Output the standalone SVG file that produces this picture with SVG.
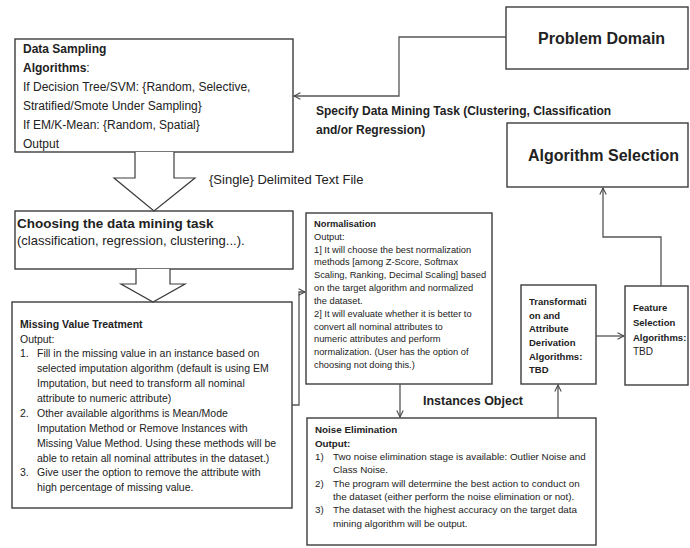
<svg xmlns="http://www.w3.org/2000/svg" width="690" height="548" viewBox="0 0 690 548">
<defs>
<marker id="ah" viewBox="0 0 10 10" refX="9" refY="5" markerWidth="8" markerHeight="8" orient="auto" markerUnits="userSpaceOnUse">
<path d="M1,1 L9,5 L1,9" fill="none" stroke="#444" stroke-width="1.3"/>
</marker>
<style>
.box{fill:#fff;stroke:#3c3c3c;stroke-width:1.4}
.bigarrow{fill:#fff;stroke:#3c3c3c;stroke-width:1.2}
.con{fill:none;stroke:#555;stroke-width:1.3}
text{font-family:"Liberation Sans",Arial,sans-serif;fill:#222}
.b{font-weight:bold}
.t12{font-size:12px}
.t13{font-size:13px}
.t10{font-size:10.5px}
.t9{font-size:9.3px}
.tn{font-size:9.8px}
.tb{font-size:9.5px;font-weight:bold}
.big{font-size:16px;font-weight:bold}
</style>
</defs>
<rect width="690" height="548" fill="#fff"/>

<g id="problem-domain">
<rect class="box" x="506" y="7" width="182" height="62"/>
<text class="big" x="538" y="44">Problem Domain</text>
</g>

<g id="algorithm-selection">
<rect class="box" x="507" y="123" width="181" height="64"/>
<text class="big" x="528" y="161">Algorithm Selection</text>
</g>

<g id="data-sampling">
<rect class="box" x="15" y="39" width="278" height="113"/>
<text class="t12" x="23" y="53"><tspan class="b">Data Sampling</tspan></text>
<text class="t12" x="23" y="72"><tspan class="b">Algorithms</tspan>:</text>
<text class="t12" x="23" y="91">If Decision Tree/SVM: {Random, Selective,</text>
<text class="t12" x="23" y="110">Stratified/Smote Under Sampling}</text>
<text class="t12" x="23" y="129">If EM/K-Mean: {Random, Spatial}</text>
<text class="t12" x="23" y="148">Output</text>
</g>

<g id="choosing-task">
<rect class="box" x="15" y="211" width="278" height="58"/>
<text class="b" style="font-size:13.5px" x="17" y="228">Choosing the data mining task</text>
<text class="t13" x="17" y="245">(classification, regression, clustering...).</text>
</g>

<g id="missing-value">
<rect class="box" x="12" y="302" width="280" height="206"/>
<text class="t10 b" x="20" y="328">Missing Value Treatment</text>
<text class="t10" x="20" y="343">Output:</text>
<text class="t10" x="20" y="357">1.</text>
<text class="t10" x="37" y="357">Fill in the missing value in an instance based on</text>
<text class="t10" x="37" y="372">selected imputation algorithm (default is using EM</text>
<text class="t10" x="37" y="387">Imputation, but need to transform all  nominal</text>
<text class="t10" x="37" y="402">attribute to numeric attribute)</text>
<text class="t10" x="20" y="417">2.</text>
<text class="t10" x="37" y="417">Other available algorithms is Mean/Mode</text>
<text class="t10" x="37" y="432">Imputation  Method or Remove Instances with</text>
<text class="t10" x="37" y="447">Missing Value Method. Using these methods will be</text>
<text class="t10" x="37" y="462">able to retain all nominal attributes in the dataset.)</text>
<text class="t10" x="20" y="476">3.</text>
<text class="t10" x="37" y="476">Give user the option to remove the attribute with</text>
<text class="t10" x="37" y="491">high percentage of missing value.</text>
</g>

<g id="normalisation">
<rect class="box" x="306" y="213" width="186" height="171"/>
<text class="t9 b" x="314" y="227">Normalisation</text>
<text class="t9" x="314" y="240">Output:</text>
<text class="t9" x="314" y="253">1] It will choose the best normalization</text>
<text class="t9" x="314" y="265">methods [among Z-Score, Softmax</text>
<text class="t9" x="314" y="278">Scaling, Ranking, Decimal Scaling] based</text>
<text class="t9" x="314" y="291">on the target algorithm and normalized</text>
<text class="t9" x="314" y="304">the dataset.</text>
<text class="t9" x="314" y="317">2] It will evaluate whether it is better to</text>
<text class="t9" x="314" y="330">convert all nominal attributes to</text>
<text class="t9" x="314" y="342">numeric attributes and perform</text>
<text class="t9" x="314" y="355">normalization. (User has the option of</text>
<text class="t9" x="314" y="368">choosing not doing this.)</text>
</g>

<g id="noise-elimination">
<rect class="box" x="307" y="418" width="289" height="127"/>
<text class="tn b" x="315" y="433">Noise Elimination</text>
<text class="tn b" x="315" y="447">Output:</text>
<text class="tn" x="315" y="460">1)</text>
<text class="tn" x="333" y="460">Two noise elimination stage is available: Outlier Noise and</text>
<text class="tn" x="333" y="473">Class Noise.</text>
<text class="tn" x="315" y="487">2)</text>
<text class="tn" x="333" y="487">The program will determine the best action to conduct on</text>
<text class="tn" x="333" y="500">the dataset (either perform the noise elimination or not).</text>
<text class="tn" x="315" y="513">3)</text>
<text class="tn" x="333" y="513">The dataset with the highest accuracy on the target data</text>
<text class="tn" x="333" y="527">mining algorithm will be output.</text>
</g>

<g id="transformation">
<rect class="box" x="521" y="285" width="75" height="99"/>
<text class="tb" x="529" y="305">Transformati</text>
<text class="tb" x="529" y="319">on and</text>
<text class="tb" x="529" y="332">Attribute</text>
<text class="tb" x="529" y="346">Derivation</text>
<text class="tb" x="529" y="360">Algorithms:</text>
<text class="tb" x="529" y="373">TBD</text>
</g>

<g id="feature-selection">
<rect class="box" x="625" y="286" width="63" height="99"/>
<text class="tb" x="633" y="311">Feature</text>
<text class="tb" x="633" y="326">Selection</text>
<text class="tb" x="633" y="341">Algorithms:</text>
<text style="font-size:10px" x="633" y="355">TBD</text>
</g>

<g id="connectors">
<polyline class="bigarrow" points="135,152 135,178 114,178 154,211 195,178 174,178 174,152"/>
<polyline class="bigarrow" points="136,269 136,284 121,284 153,302 185,284 170,284 170,269"/>
<polyline class="con" points="506,37 399,37 399,96 294,96" marker-end="url(#ah)"/>
<polyline class="con" points="292,405 299,405 299,292 305,292" marker-end="url(#ah)"/>
<line class="con" x1="400" y1="384" x2="400" y2="417" marker-end="url(#ah)"/>
<line class="con" x1="558" y1="418" x2="558" y2="385" marker-end="url(#ah)"/>
<line class="con" x1="596" y1="336" x2="624" y2="336" marker-end="url(#ah)"/>
<polyline class="con" points="661,286 661,237 603,237 603,188" marker-end="url(#ah)"/>
</g>

<g id="labels">
<text class="t12 b" x="316" y="115">Specify Data Mining Task (Clustering, Classification</text>
<text class="t12 b" x="316" y="134">and/or Regression)</text>
<text class="t13" x="209" y="184">{Single} Delimited Text File</text>
<text class="b" style="font-size:12.5px" x="423" y="405">Instances Object</text>
</g>
</svg>
